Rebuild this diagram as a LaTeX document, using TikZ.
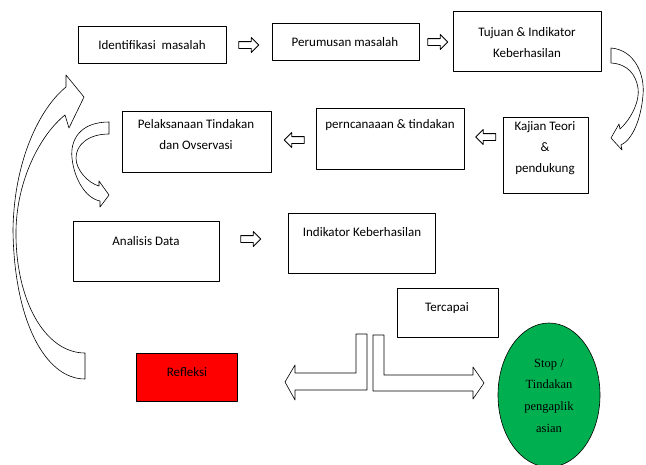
\documentclass[tikz,border=0pt]{standalone}
\usepackage{fontspec}
\setmainfont{Carlito}
\newfontfamily\serifteks{Liberation Serif}
\usetikzlibrary{shapes.arrows}
\usetikzlibrary{shapes.geometric}
\definecolor{merah}{RGB}{255,0,0}
\definecolor{hijau}{RGB}{0,176,80}

\begin{document}
\begin{tikzpicture}[line cap=round,line join=round,x=1pt,y=-1pt,
    kotak/.style={draw=black,line width=0.6pt,inner sep=0pt},
    teks/.style={inner sep=0pt,align=center,font=\fontsize{13}{21}\selectfont},
    blokkanan/.style={draw=black,line width=0.9pt,single arrow,minimum height=20pt,inner sep=3pt,single arrow head extend=4pt},
    blokkiri/.style={blokkanan,shape border rotate=180},
    lengkung/.style={draw=black,line width=0.6pt,fill=white}]
        \useasboundingbox (0,0) rectangle (646,464);
        % kotak-kotak
        \node[kotak,minimum width=148,minimum height=37] (ident) at (152,44.5) {};
        \node[kotak,minimum width=147,minimum height=37] (perum) at (345.5,41.5) {};
        \node[kotak,minimum width=148,minimum height=60] (tujuan) at (527,41) {};
        \node[kotak,minimum width=85,minimum height=76] (kajian) at (545.5,155) {};
        \node[kotak,minimum width=148,minimum height=61] (rencana) at (390,138.5) {};
        \node[kotak,minimum width=149,minimum height=61] (laksana) at (196.5,141.5) {};
        \node[kotak,minimum width=146,minimum height=60] (analisis) at (146,251) {};
        \node[kotak,minimum width=147,minimum height=60] (indikator) at (361.5,243) {};
        \node[kotak,minimum width=101,minimum height=49] (tercapai) at (447.5,312.5) {};
        \node[kotak,fill=merah,minimum width=101,minimum height=48] (refleksi) at (186.5,377) {};
        \node[kotak,ellipse,fill=hijau,minimum width=102,minimum height=144] (stop) at (549,395) {};
        % teks
        \node[teks] (t-ident) at (152,45) {Identifikasi\ \ masalah};
        \node[teks] (t-perum) at (345,42) {Perumusan masalah};
        \node[teks] (t-tujuan) at (527,42.5) {Tujuan \& Indikator\\Keberhasilan};
        \node[teks] (t-kajian) at (545,148) {Kajian Teori\\\&\\pendukung};
        \node[teks] (t-rencana) at (390,125) {perncanaaan \& tindakan};
        \node[teks] (t-laksana) at (196,135) {Pelaksanaan Tindakan\\dan Ovservasi};
        \node[teks] (t-analisis) at (146,241) {Analisis Data};
        \node[teks] (t-indikator) at (362,232) {Indikator Keberhasilan};
        \node[teks] (t-tercapai) at (447,308) {Tercapai};
        \node[teks] (t-refleksi) at (187,372) {Refleksi};
        \node[teks,font=\serifteks\fontsize{12.5}{21.7}\selectfont] (t-stop) at (549,395.5) {Stop /\\Tindakan\\pengaplik\\asian};
        % panah blok
        \node[blokkanan] (p1) at (247,45) {};
        \node[blokkanan] (p2) at (436,42) {};
        \node[blokkiri] (p3) at (487.5,137) {};
        \node[blokkiri] (p4) at (296,140) {};
        \node[blokkanan] (p5) at (249,239) {};
        % panah bercabang
        \draw[lengkung] (356,334) -- (367,334) -- (367,390) -- (295,390) -- (295,400) -- (285,382) -- (295,365) -- (295,373) -- (356,373) -- cycle;
        \draw[lengkung] (373,335) -- (384,335) -- (384,375) -- (473,375) -- (473,367) -- (484,383) -- (473,399) -- (473,391) -- (373,391) -- cycle;
        % panah lengkung
        \draw[lengkung] (611,48) .. controls (635,50) and (645,75) .. (643,95) .. controls (641,120) and (632,140) .. (621,145) -- (622,150) -- (611,138) -- (619,124) -- (620,129) .. controls (632,118) and (640,100) .. (638,88) .. controls (636,75) and (628,64) .. (611,63) -- cycle;
        \draw[lengkung] (109,122) .. controls (80,122) and (70,140) .. (72,158) .. controls (74,178) and (85,198) .. (100,201) -- (100,207) -- (109,195) -- (99,181) -- (99,186) .. controls (88,183) and (76,170) .. (76,158) .. controls (76,145) and (88,134) .. (109,134) -- cycle;
        \draw[lengkung] (85,379) .. controls (45,379) and (14,320) .. (13,230) .. controls (14,160) and (40,108) .. (66,87) -- (66,75) -- (84,97) -- (69,128) -- (65,115) .. controls (40,135) and (17,180) .. (16,230) .. controls (15,300) and (45,353) .. (85,353) -- cycle;
\end{tikzpicture}
\end{document}
